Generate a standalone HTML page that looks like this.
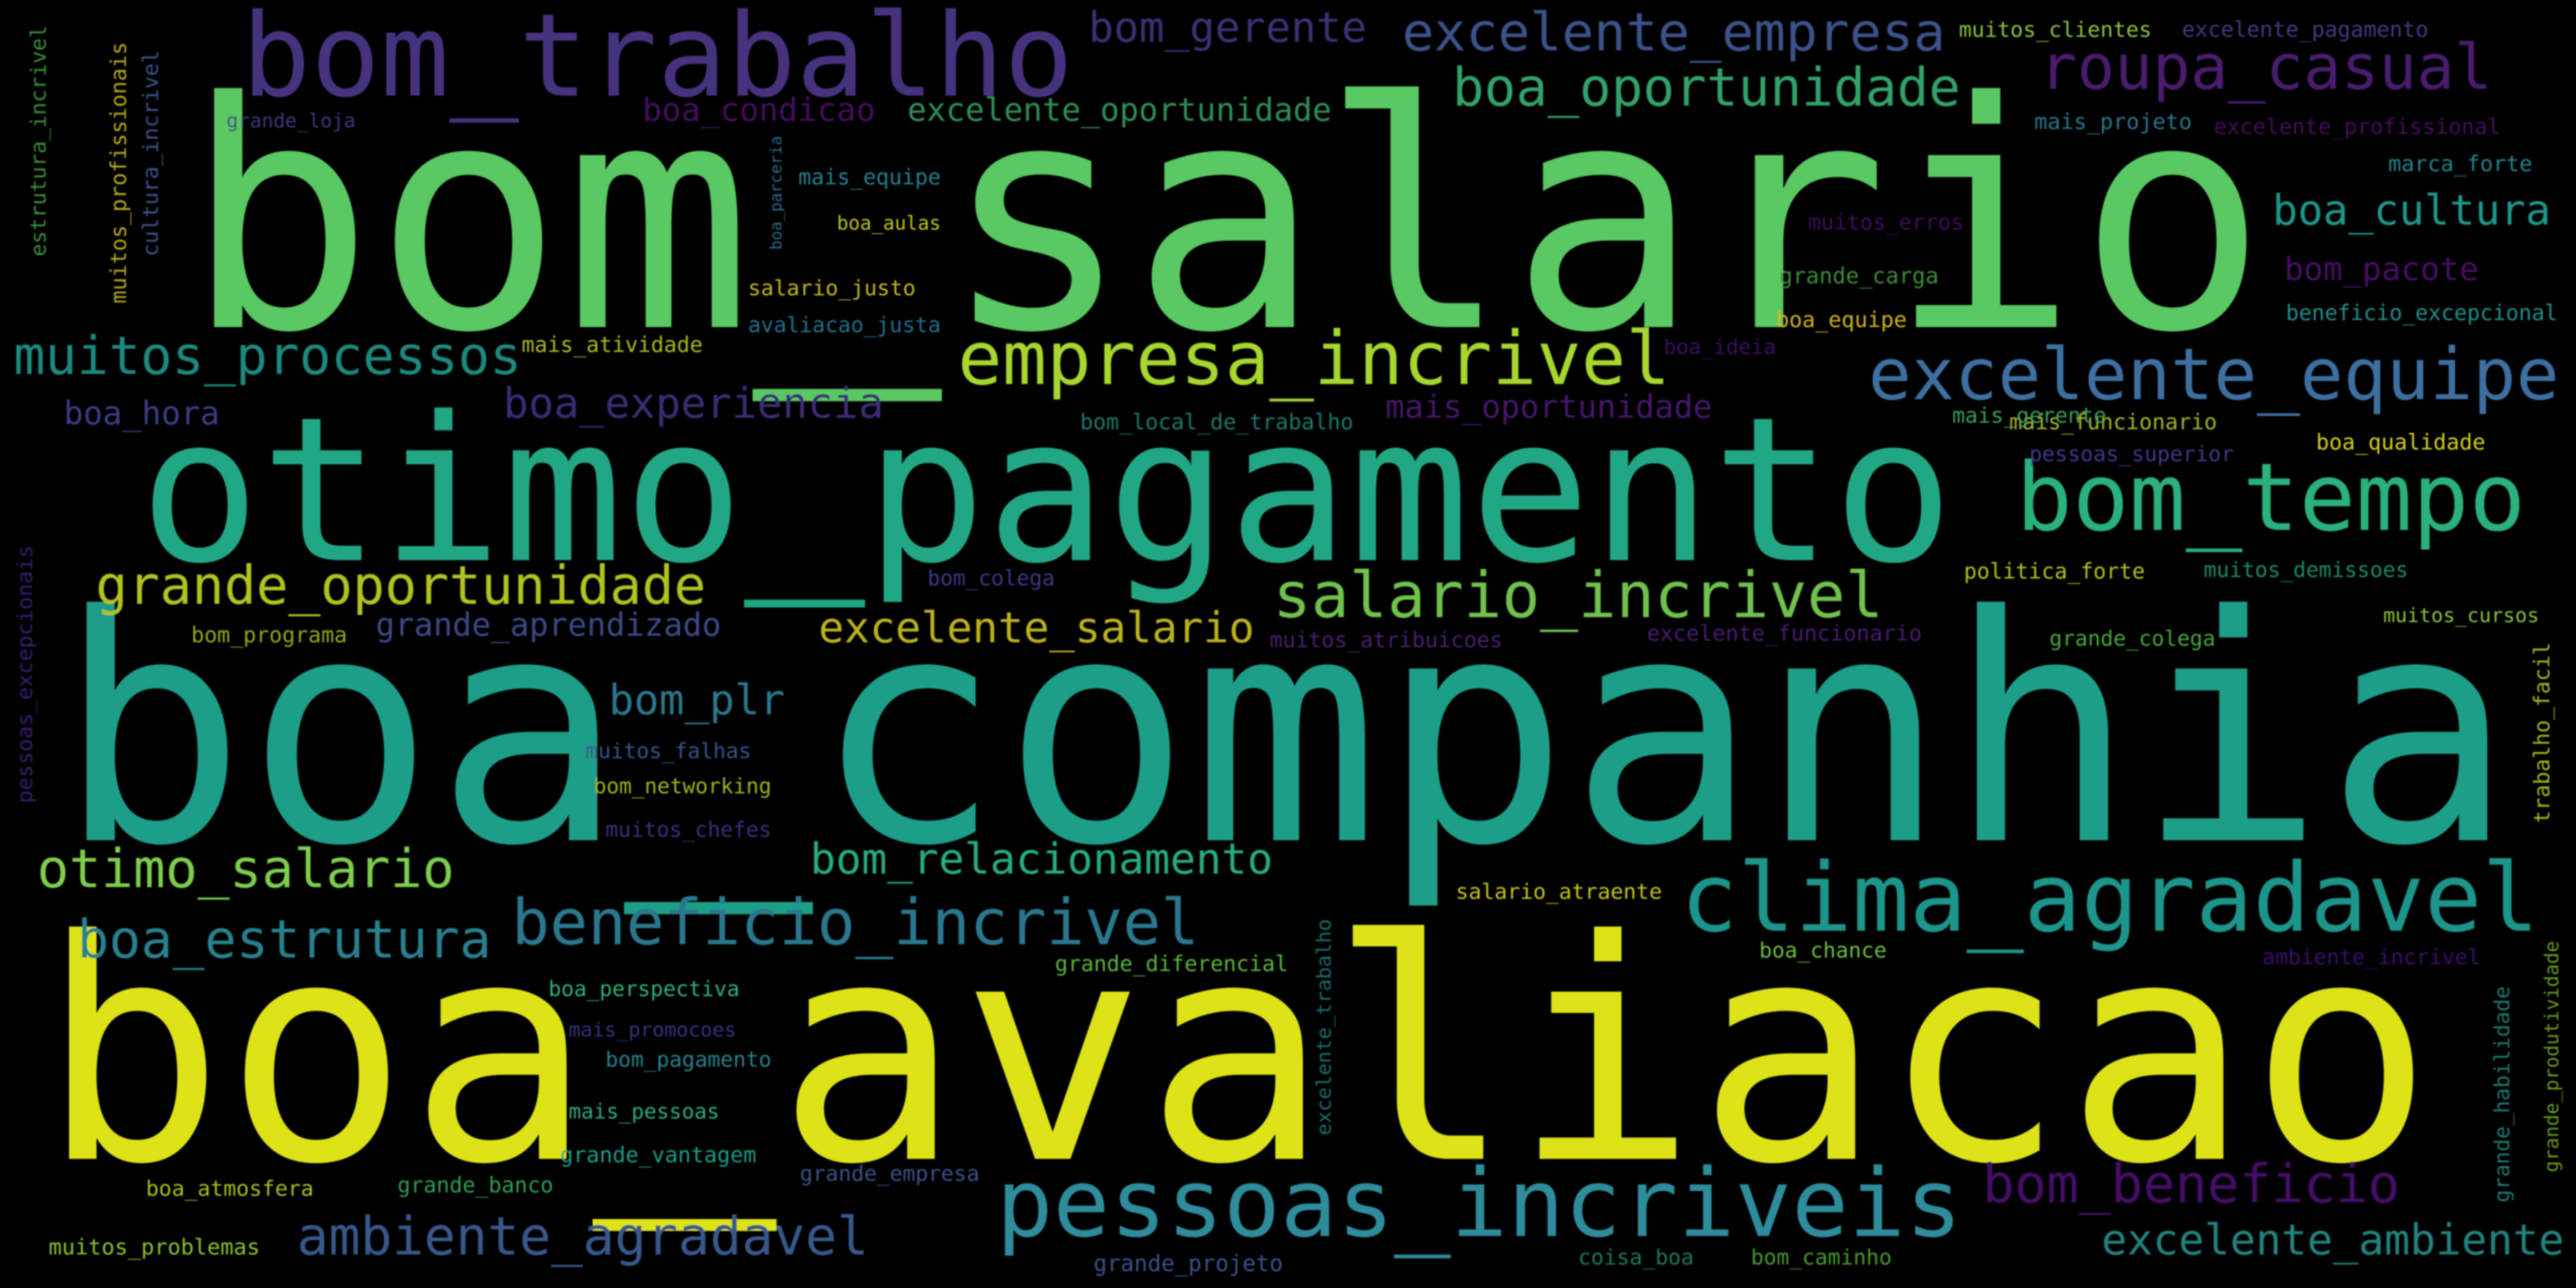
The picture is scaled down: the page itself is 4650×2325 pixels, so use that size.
<!DOCTYPE html>
<html>
<head>
<meta charset="utf-8">
<style>
  html, body { margin: 0; padding: 0; background: #000; }
  #cloud { display: block; width: 4650px; height: 2325px; background: #000; }
  text { font-family: "DejaVu Sans Mono", "Liberation Mono", monospace; }
</style>
</head>
<body>
<svg id="cloud" xmlns="http://www.w3.org/2000/svg" viewBox="0 0 1536 768" width="4650" height="2325">
  <rect x="0" y="0" width="1536" height="768" fill="#000"/>
  <defs>
    <filter id="soft" x="-5%" y="-5%" width="110%" height="110%"><feGaussianBlur stdDeviation="0.45"/></filter>
  </defs>
  <g id="words" filter="url(#soft)"></g>
</svg>
<script>
// horizontal words: text, left x, right x, baseline y, colour
const hWords = ["bom_salario","otimo_pagamento","boa_companhia","boa_avaliacao","bom_trabalho","excelente_equipe","bom_tempo","clima_agradavel","pessoas_incriveis","roupa_casual","boa_oportunidade","excelente_empresa","bom_gerente","excelente_oportunidade","boa_condicao","grande_loja","muitos_clientes","excelente_pagamento","mais_projeto","excelente_profissional","marca_forte","boa_cultura","bom_pacote","beneficio_excepcional","mais_funcionario","boa_qualidade","pessoas_superior","politica_forte","muitos_demissoes","muitos_cursos","grande_colega","boa_chance","ambiente_incrivel","bom_plr","muitos_falhas","bom_networking","muitos_chefes","otimo_salario","bom_relacionamento","beneficio_incrivel","boa_estrutura","grande_diferencial","boa_perspectiva","mais_promocoes","bom_pagamento","mais_pessoas","grande_vantagem","grande_banco","boa_atmosfera","grande_empresa","ambiente_agradavel","muitos_problemas","grande_projeto","excelente_salario","bom_programa","mais_equipe","boa_aulas","salario_justo","avaliacao_justa","muitos_processos","mais_atividade","boa_experiencia","boa_hora","grande_oportunidade","grande_aprendizado","empresa_incrivel","mais_oportunidade","bom_local_de_trabalho","mais_gerente","muitos_erros","grande_carga","boa_equipe","boa_ideia","salario_incrivel","bom_colega","muitos_atribuicoes","excelente_funcionario","salario_atraente","bom_beneficio","excelente_ambiente","bom_caminho","coisa_boa"];
const hLeft = [110,83,34,24,144,1114,1202,1002,594,1216,866,836,649,541,383,135,1168,1301,1213,1320,1424,1355,1362,1363,1198,1381,1210,1171,1314,1421,1222,1049,1349,363,349,354,361,22,483,305,46,629,327,339,361,339,334,237,87,477,177,29,652,488,114,476,499,446,446,8,311,300,38,57,224,571,826,644,1164,1078,1061,1059,992,759,553,757,982,868,1182,1253,1044,941];
const hRight = [1352,1165,1499,1451,640,1526,1506,1514,1170,1486,1169,1160,815,794,522,212,1283,1448,1307,1491,1510,1521,1478,1525,1322,1482,1332,1279,1436,1514,1321,1125,1479,468,448,460,460,271,759,715,293,768,441,439,460,429,451,330,187,584,518,155,765,748,207,561,561,546,561,311,419,527,131,421,430,996,1021,807,1256,1171,1156,1137,1059,1123,629,896,1146,991,1431,1529,1128,1010];
const hBase = [195,334,501,691,57,238,316,555,737,53,63,30,25,72,72,76,22,22,77,80,102,134,167,191,256,268,275,345,344,371,385,571,575,426,452,473,499,529,521,563,571,579,594,618,636,667,693,711,713,704,748,748,758,383,383,110,137,176,198,223,210,249,253,360,379,229,249,256,252,137,169,195,211,368,349,386,382,536,717,748,754,754];
const hColor = ["#5ac864","#22a785","#1f9e89","#dde318","#46327e","#3e6fa0","#2cb17e","#1f958b","#2d8c9c","#481c6e","#33a36b","#3b5289","#3f2f75","#2f8f58","#440f5e","#46307e","#8fc43c","#443983","#2a768e","#46085c","#25838e","#1f988b","#471164","#21918c","#a8b51e","#d6d21a","#3d3a8a","#b5c01c","#1f8a6e","#8fc43c","#4aa83d","#6fbf3a","#3b0f70","#2a788e","#3b528b","#a0b51e","#3e2f80","#7fcf4e","#27ad81","#2a788e","#26828e","#5cb83a","#2eb37c","#31357f","#25848e","#2ab07f","#1f9e89","#2e9f5a","#a8c11e","#3b528b","#38588c","#8bc42b","#3b528b","#bdb31a","#9aa81c","#26828e","#c2c81e","#c5b81c","#21718e","#1f8a7f","#b0b91c","#3e2c76","#3b3d85","#b3c51f","#3e4a89","#a8d72e","#45136c","#1f7a6e","#37a05a","#3d0c5a","#3d8e3a","#d1b417","#3b0f63","#6fc24e","#3d3a85","#46226e","#4a1a72","#c8c41a","#440a68","#20837f","#4a9a2f","#1f7a5a"];

// vertical words (read bottom to top): text, right x, top y, bottom y, colour
const vWords = ["estrutura_incrivel","muitos_profissionais","cultura_incrivel","boa_parceria","pessoas_excepcionais","trabalho_facil","excelente_trabalho","grande_habilidade","grande_produtividade"];
const vRight = [30,78,97,468,22,1523,796,1499,1528];
const vTop = [15,25,30,81,325,383,548,588,561];
const vBottom = [153,181,153,149,479,491,677,717,699];
const vColor = ["#3e8c3a","#b5a81c","#3b528b","#2a6f8e","#3b1f6e","#a8b51e","#1f6e6e","#1f7a72","#6a9a23"];

const NS = "http://www.w3.org/2000/svg";
const g = document.getElementById("words");
const ADV = 0.602;

function slug(s){ return s.replace(/_/g,'-'); }

for (let i = 0; i < hWords.length; i++) {
  const w = hWords[i];
  const len = hRight[i] - hLeft[i];
  const size = len / w.length / ADV;
  const t = document.createElementNS(NS, "text");
  
  
  t.setAttribute("x", hLeft[i]);
  t.setAttribute("y", hBase[i]);
  t.setAttribute("font-size", size.toFixed(2));
  t.setAttribute("textLength", len);
  t.setAttribute("lengthAdjust", "spacingAndGlyphs");
  t.setAttribute("fill", hColor[i]);
  t.textContent = w;
  g.appendChild(t);
}

for (let i = 0; i < vWords.length; i++) {
  const w = vWords[i];
  const len = vBottom[i] - vTop[i];
  const size = len / w.length / ADV;
  const bx = vRight[i] - size * 0.22;
  const by = vBottom[i];
  const t = document.createElementNS(NS, "text");
  
  
  t.setAttribute("x", 0);
  t.setAttribute("y", 0);
  t.setAttribute("transform", "translate(" + bx.toFixed(2) + "," + by + ") rotate(-90)");
  t.setAttribute("font-size", size.toFixed(2));
  t.setAttribute("textLength", len);
  t.setAttribute("lengthAdjust", "spacingAndGlyphs");
  t.setAttribute("fill", vColor[i]);
  t.textContent = w;
  g.appendChild(t);
}
</script>
</body>
</html>
